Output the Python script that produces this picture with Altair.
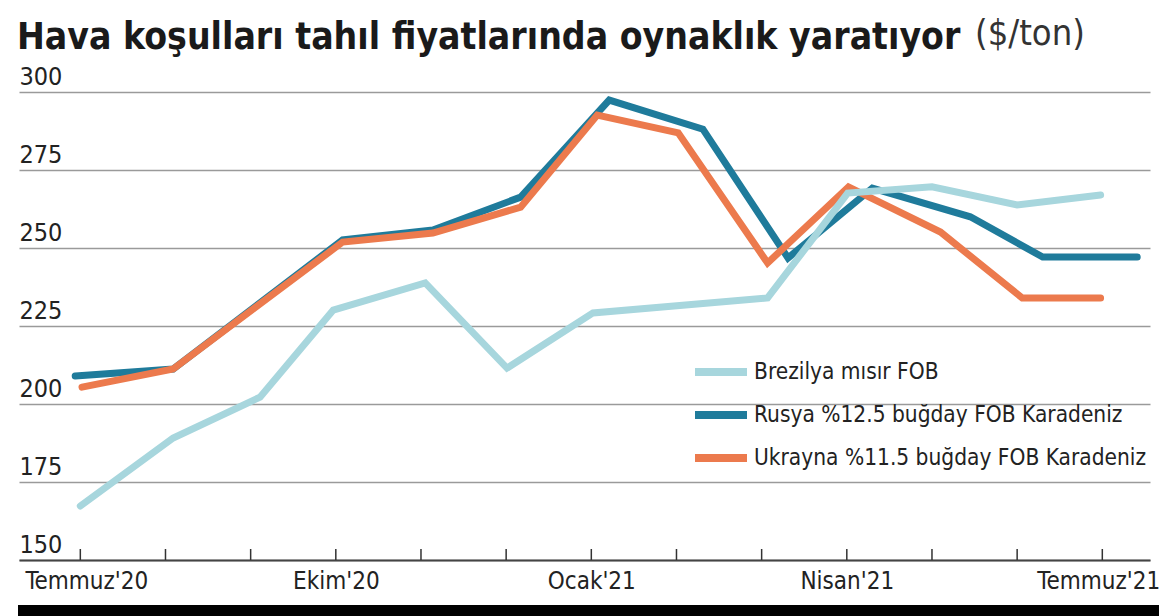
import json
import altair as alt
import pandas as pd

title_text = "Hava koşulları tahıl fiyatlarında oynaklık yaratıyor"
unit_text = "($/ton)"

series_names = ["Brezilya mısır FOB", "Rusya %12.5 buğday FOB Karadeniz", "Ukrayna %11.5 buğday FOB Karadeniz"]
series_colors = ["#a7d6dd", "#1f7b9b", "#ec7a4d"]

# x positions in months after July 2020
months_br = [0.0, 1.09, 2.11, 2.97, 4.05, 5.01, 6.02, 8.07, 9.01, 10.0, 11.0, 11.98]
vals_br = [167.3, 189.1, 202.2, 230.1, 238.8, 211.5, 229.2, 234.0, 267.6, 269.6, 263.8, 267.0]

months_ru = [-0.06, 1.09, 3.08, 4.14, 5.17, 6.21, 7.31, 8.31, 9.30, 10.45, 11.30, 12.41]
vals_ru = [209.0, 211.2, 252.6, 255.8, 266.3, 297.4, 288.1, 246.8, 269.2, 260.0, 247.1, 247.1]

months_uk = [0.02, 1.09, 3.08, 4.14, 5.17, 6.07, 7.02, 8.07, 9.02, 10.10, 11.06, 11.98]
vals_uk = [205.4, 211.2, 251.9, 254.8, 263.1, 292.6, 286.9, 245.2, 269.6, 255.1, 234.0, 234.0]

tick_months = list(range(13))
month_labels = ["Temmuz'20", "", "", "Ekim'20", "", "", "Ocak'21", "", "", "Nisan'21", "", "", "Temmuz'21"]
label_months = [0, 3, 6, 9, 12]
y_ticks = [150, 175, 200, 225, 250, 275, 300]

FONT = "DejaVu Sans Condensed, sans-serif"
W, H = 1131, 468

rows = []
for name, ms, vs in [(series_names[0], months_br, vals_br),
                     (series_names[1], months_ru, vals_ru),
                     (series_names[2], months_uk, vals_uk)]:
    for i, (m, v) in enumerate(zip(ms, vs)):
        rows.append({"seri": name, "ay": m, "deger": v, "sira": i})
df = pd.DataFrame(rows)

xscale = alt.Scale(domain=[-0.72, 12.56], nice=False)
yscale = alt.Scale(domain=[150, 300], nice=False, zero=False)
legend = alt.Legend(
    title=None, orient="none", legendX=685, legendY=263,
    symbolType="M-2,0L2,0", symbolSize=676, symbolStrokeWidth=8,
    labelFont=FONT, labelFontSize=22.5, labelColor="#222222",
    labelOffset=16, rowPadding=10, padding=0, labelLimit=600,
)
color = alt.Color("seri:N", scale=alt.Scale(domain=series_names, range=series_colors), legend=legend)

x_axis = alt.Axis(
    values=label_months, title=None, grid=False, ticks=False, tickSize=0, labelPadding=9,
    labelExpr=json.dumps(month_labels) + "[datum.value]",
    labelFont=FONT, labelFontSize=24, labelColor="#222222",
    labelOffset={"condition": [{"test": "datum.value == 0", "value": 6},
                               {"test": "datum.value == 12", "value": -4}], "value": 0},
    domainColor="#444444", domainWidth=2, labelFlush=False,
)
y_axis = alt.Axis(
    values=y_ticks, title=None, grid=True, gridColor="#9a9a9a", gridWidth=1.5,
    domain=False, ticks=False, tickSize=0, labelPadding=0, labelAlign="left",
    labelBaseline="bottom", labelOffset=-3, labelFlush=False,
    labelFont=FONT, labelFontSize=25, labelColor="#222222",
)

def line_layer(name):
    return alt.Chart(df).transform_filter(alt.datum.seri == name).mark_line(
        strokeWidth=7, strokeCap="round", strokeJoin="miter"
    ).encode(
        x=alt.X("ay:Q", scale=xscale, axis=x_axis),
        y=alt.Y("deger:Q", scale=yscale, axis=y_axis),
        color=color,
        order="sira:Q",
    )

base = alt.Chart(pd.DataFrame({"ay": tick_months}))
ticks = base.mark_rule(color="#333333", strokeWidth=1.5).encode(
    x=alt.X("ay:Q", scale=xscale, axis=x_axis), y=alt.value(H - 11), y2=alt.value(H)
)

note = alt.Chart(pd.DataFrame({"t": [unit_text], "b": [title_text]}))
head = note.mark_text(
    font=FONT, fontSize=37, fontWeight="bold", color="#1a1a1a", align="left", baseline="alphabetic"
).encode(text="b:N", x=alt.value(-2), y=alt.value(-43))
unit = note.mark_text(
    font=FONT, fontSize=36, fontWeight=300, color="#333333", align="left", baseline="alphabetic"
).encode(text="t:N", x=alt.value(956), y=alt.value(-47))
bar = note.mark_rule(color="#000000", strokeWidth=12).encode(
    x=alt.value(-1), x2=alt.value(W + 9), y=alt.value(H + 51)
)

chart = alt.layer(
    line_layer(series_names[1]),
    line_layer(series_names[2]),
    line_layer(series_names[0]),
    ticks, head, unit, bar,
).properties(
    width=W, height=H,
    background="white",
    autosize=alt.AutoSizeParams(type="none"),
    padding={"left": 19, "top": 92, "right": 9, "bottom": 56},
).configure_view(stroke=None)

chart.save("out.html", embed_options={"renderer": "svg", "actions": False})
